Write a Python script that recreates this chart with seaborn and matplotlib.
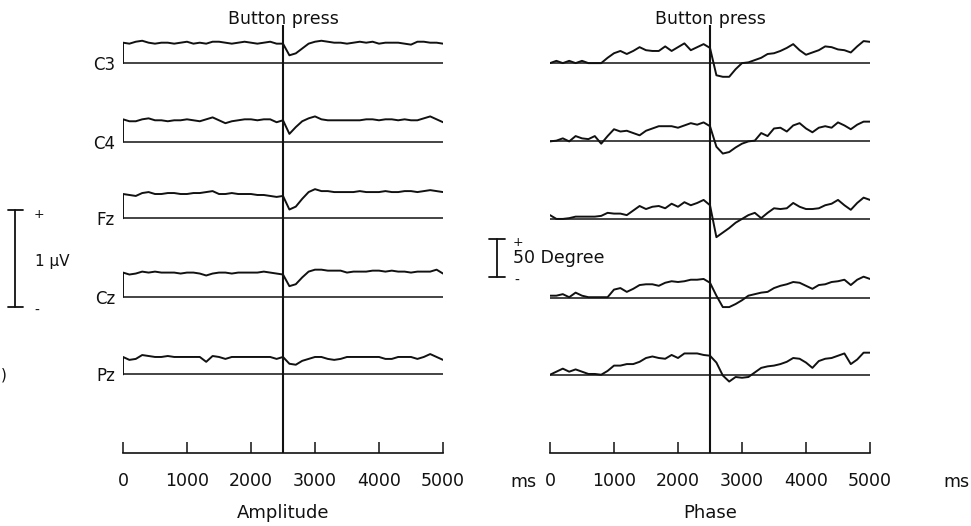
import numpy as np
import pandas as pd
import matplotlib
matplotlib.use("Agg")
import matplotlib.pyplot as plt
import matplotlib.transforms as mtransforms
import seaborn as sns

# ---------------- data ----------------
CHANNELS = ["C3", "C4", "Fz", "Cz", "Pz"]
TIME_MS = np.arange(0, 5001, 100)
PRESS_MS = 2500
TICKS_MS = [0, 1000, 2000, 3000, 4000, 5000]

# Amplitude (microvolts above each channel's baseline)
AMP_C3 = [.21, .20, .22, .23, .21, .20, .21, .21, .20, .21, .22, .20, .21, .20, .22, .22, .21,
          .20, .21, .22, .21, .20, .21, .22, .20, .20, .08, .10, .15, .20, .22, .23, .22, .21,
          .21, .20, .21, .22, .21, .22, .20, .21, .21, .21, .20, .19, .22, .22, .21, .21, .20]
AMP_C4 = [.23, .21, .21, .23, .24, .22, .22, .21, .22, .22, .23, .22, .21, .23, .25, .22, .19,
          .21, .22, .23, .23, .22, .23, .23, .20, .22, .08, .15, .21, .24, .26, .23, .22, .22,
          .22, .22, .22, .22, .23, .23, .22, .23, .23, .22, .23, .22, .22, .24, .26, .23, .20]
AMP_FZ = [.25, .24, .23, .26, .27, .25, .25, .26, .26, .25, .25, .26, .26, .27, .28, .25, .25,
          .26, .25, .25, .25, .24, .24, .23, .22, .23, .09, .12, .20, .27, .30, .28, .28, .27,
          .27, .27, .27, .28, .27, .27, .27, .28, .27, .27, .28, .28, .27, .28, .29, .28, .27]
AMP_CZ = [.25, .23, .24, .26, .25, .26, .25, .25, .25, .24, .25, .25, .24, .22, .24, .25, .25,
          .24, .25, .25, .25, .25, .26, .25, .24, .23, .11, .13, .20, .26, .28, .28, .27, .27,
          .27, .25, .26, .26, .26, .27, .27, .26, .27, .26, .26, .25, .26, .26, .26, .28, .24]
AMP_PZ = [.18, .15, .16, .20, .19, .18, .18, .19, .18, .18, .18, .18, .18, .13, .19, .18, .16,
          .18, .18, .18, .18, .18, .18, .18, .16, .18, .11, .10, .14, .16, .18, .18, .16, .15,
          .16, .18, .18, .18, .18, .18, .18, .16, .16, .18, .18, .18, .16, .18, .21, .18, .15]

# Phase (degrees relative to each channel's baseline)
PH_C3 = [0, 3, 0, 3, 0, 3, 0, 0, 0, 7, 13, 16, 12, 16, 21, 17, 16, 16, 22, 16, 21, 26, 17, 21,
         25, 20, -16, -18, -18, -8, 0, 1, 4, 7, 12, 13, 16, 20, 25, 17, 11, 14, 17, 22, 21, 18,
         17, 14, 22, 29, 28]
PH_C4 = [0, 1, 4, 0, 7, 4, 3, 7, -3, 7, 16, 13, 14, 11, 8, 14, 17, 20, 20, 20, 18, 21, 24, 22,
         25, 20, -7, -16, -14, -8, -3, 0, 1, 11, 7, 17, 18, 13, 21, 24, 17, 12, 18, 20, 18, 25,
         21, 16, 22, 26, 26]
PH_FZ = [5, 0, 0, 1, 3, 3, 3, 3, 4, 8, 7, 7, 5, 11, 17, 13, 16, 17, 14, 20, 16, 22, 18, 21,
         25, 18, -24, -18, -12, -5, 0, 5, 8, 1, 8, 14, 13, 14, 21, 16, 13, 13, 14, 18, 20, 25,
         18, 12, 21, 28, 25]
PH_CZ = [3, 3, 5, 1, 7, 3, 1, 1, 1, 1, 11, 13, 8, 12, 17, 18, 18, 16, 20, 22, 21, 22, 24, 24,
         25, 20, 3, -12, -12, -8, -3, 3, 5, 7, 8, 13, 16, 18, 21, 20, 16, 12, 17, 18, 21, 22,
         24, 17, 24, 28, 25]
PH_PZ = [0, 4, 8, 4, 7, 4, 1, 1, 0, 5, 12, 12, 14, 14, 17, 22, 24, 22, 21, 26, 22, 28, 28, 28,
         26, 25, 16, -1, -9, -3, -4, -3, 3, 9, 11, 12, 14, 17, 22, 21, 16, 9, 18, 21, 22, 25,
         28, 14, 20, 29, 29]

AMP_SCALE_UV = 1.0
PHASE_SCALE_DEG = 50

# ---------------- layout ----------------
W, H = 971, 526
INK = "#111111"
AMP_OFFSETS = [4.02, 3.21, 2.42, 1.61, 0.81]       # microvolts
PH_OFFSETS = [513, 410, 308, 204, 103]            # degrees
AMP_YMAX = 428 / 97
PH_YMAX = 428 * 50 / 38

sns.set_theme(style="white")
plt.rcParams["font.family"] = ["DejaVu Sans"]
plt.rcParams["text.color"] = INK

fig = plt.figure(figsize=(W / 100, H / 100), dpi=100)
fig.patch.set_facecolor("white")


def px_rect(x0, y_top, x1, y_bot):
    return [x0 / W, 1 - y_bot / H, (x1 - x0) / W, (y_bot - y_top) / H]


ax_amp = fig.add_axes(px_rect(123, 25, 443, 453))
ax_ph = fig.add_axes(px_rect(550, 25, 870, 453))


def draw_panel(ax, series, offsets, bracket):
    frames = []
    for ch, vals, off in zip(CHANNELS, series, offsets):
        t = list(TIME_MS)
        v = [off + x for x in vals]
        if bracket:
            t = [0] + t
            v = [off] + v
        frames.append(pd.DataFrame({"time": t, "y": v, "channel": ch}))
    df = pd.concat(frames, ignore_index=True)
    sns.lineplot(data=df, x="time", y="y", units="channel", estimator=None, sort=False,
                 color=INK, lw=1.4, ax=ax, legend=False)
    ax.hlines(offsets, 0, 5000, color=INK, lw=1.1)
    ax.axvline(PRESS_MS, color=INK, lw=1.5)


draw_panel(ax_amp, [AMP_C3, AMP_C4, AMP_FZ, AMP_CZ, AMP_PZ], AMP_OFFSETS, True)
draw_panel(ax_ph, [PH_C3, PH_C4, PH_FZ, PH_CZ, PH_PZ], PH_OFFSETS, False)
ax_amp.set_ylim(0, AMP_YMAX)
ax_ph.set_ylim(0, PH_YMAX)

for ax, xlabel in ((ax_amp, "Amplitude"), (ax_ph, "Phase")):
    ax.set_xlim(0, 5000)
    ax.set_xticks(TICKS_MS)
    ax.set_xticklabels([str(t) for t in TICKS_MS])
    for s in ("left", "top", "right"):
        ax.spines[s].set_visible(False)
    ax.spines["bottom"].set_color(INK)
    ax.spines["bottom"].set_linewidth(1.2)
    ax.tick_params(axis="x", direction="in", length=8, width=1.1, pad=14,
                   labelsize=12.5, colors=INK, bottom=True)
    ax.set_yticks([])
    ax.set_ylabel("")
    ax.set_xlabel(xlabel, fontsize=13, labelpad=10, color=INK)
    ax.patch.set_alpha(0)
    trans = mtransforms.blended_transform_factory(ax.transData, fig.transFigure)
    ax.text(PRESS_MS, 1 - 19 / H, "Button press", ha="center", va="center",
            fontsize=12.5, transform=trans, color=INK)

# channel labels
for ch, off in zip(CHANNELS, AMP_OFFSETS):
    ax_amp.annotate(ch, xy=(0, off), xytext=(-8, -2), textcoords="offset pixels",
                    ha="right", va="center", fontsize=12, color=INK)

# amplitude scale bar (1 µV)
tf = mtransforms.blended_transform_factory(fig.transFigure, ax_amp.transData)
y0 = (453 - 307) / 97
ax_amp.plot([15 / W, 15 / W], [y0, y0 + AMP_SCALE_UV], color=INK, lw=1.3, transform=tf, clip_on=False)
for yy in (y0, y0 + AMP_SCALE_UV):
    ax_amp.plot([8 / W, 23 / W], [yy, yy], color=INK, lw=1.3, transform=tf, clip_on=False)
fig.text(39 / W, 1 - 214 / H, "+", ha="center", va="center", fontsize=9, color=INK)
fig.text(37 / W, 1 - 311 / H, "-", ha="center", va="center", fontsize=10, color=INK)
fig.text(35 / W, 1 - 262 / H, "1 \u03bcV", ha="left", va="center", fontsize=11, color=INK)

# phase scale bar (50 degree)
tf2 = mtransforms.blended_transform_factory(fig.transFigure, ax_ph.transData)
p0 = (453 - 277) * 50 / 38
ax_ph.plot([497 / W, 497 / W], [p0, p0 + PHASE_SCALE_DEG], color=INK, lw=1.3, transform=tf2, clip_on=False)
for yy in (p0, p0 + PHASE_SCALE_DEG):
    ax_ph.plot([489 / W, 505 / W], [yy, yy], color=INK, lw=1.3, transform=tf2, clip_on=False)
fig.text(518 / W, 1 - 243 / H, "+", ha="center", va="center", fontsize=9, color=INK)
fig.text(517 / W, 1 - 281 / H, "-", ha="center", va="center", fontsize=10, color=INK)
fig.text(513 / W, 1 - 258 / H, "50 Degree", ha="left", va="center", fontsize=12.5, color=INK)

# unit labels next to the phase time axis
fig.text(523 / W, 1 - 482 / H, "ms", ha="center", va="center", fontsize=12.5, color=INK)
fig.text(956 / W, 1 - 482 / H, "ms", ha="center", va="center", fontsize=12.5, color=INK)
fig.text(4 / W, 1 - 375 / H, ")", ha="center", va="center", fontsize=11, color=INK)

fig.savefig("out.png", dpi=100, facecolor="white")
